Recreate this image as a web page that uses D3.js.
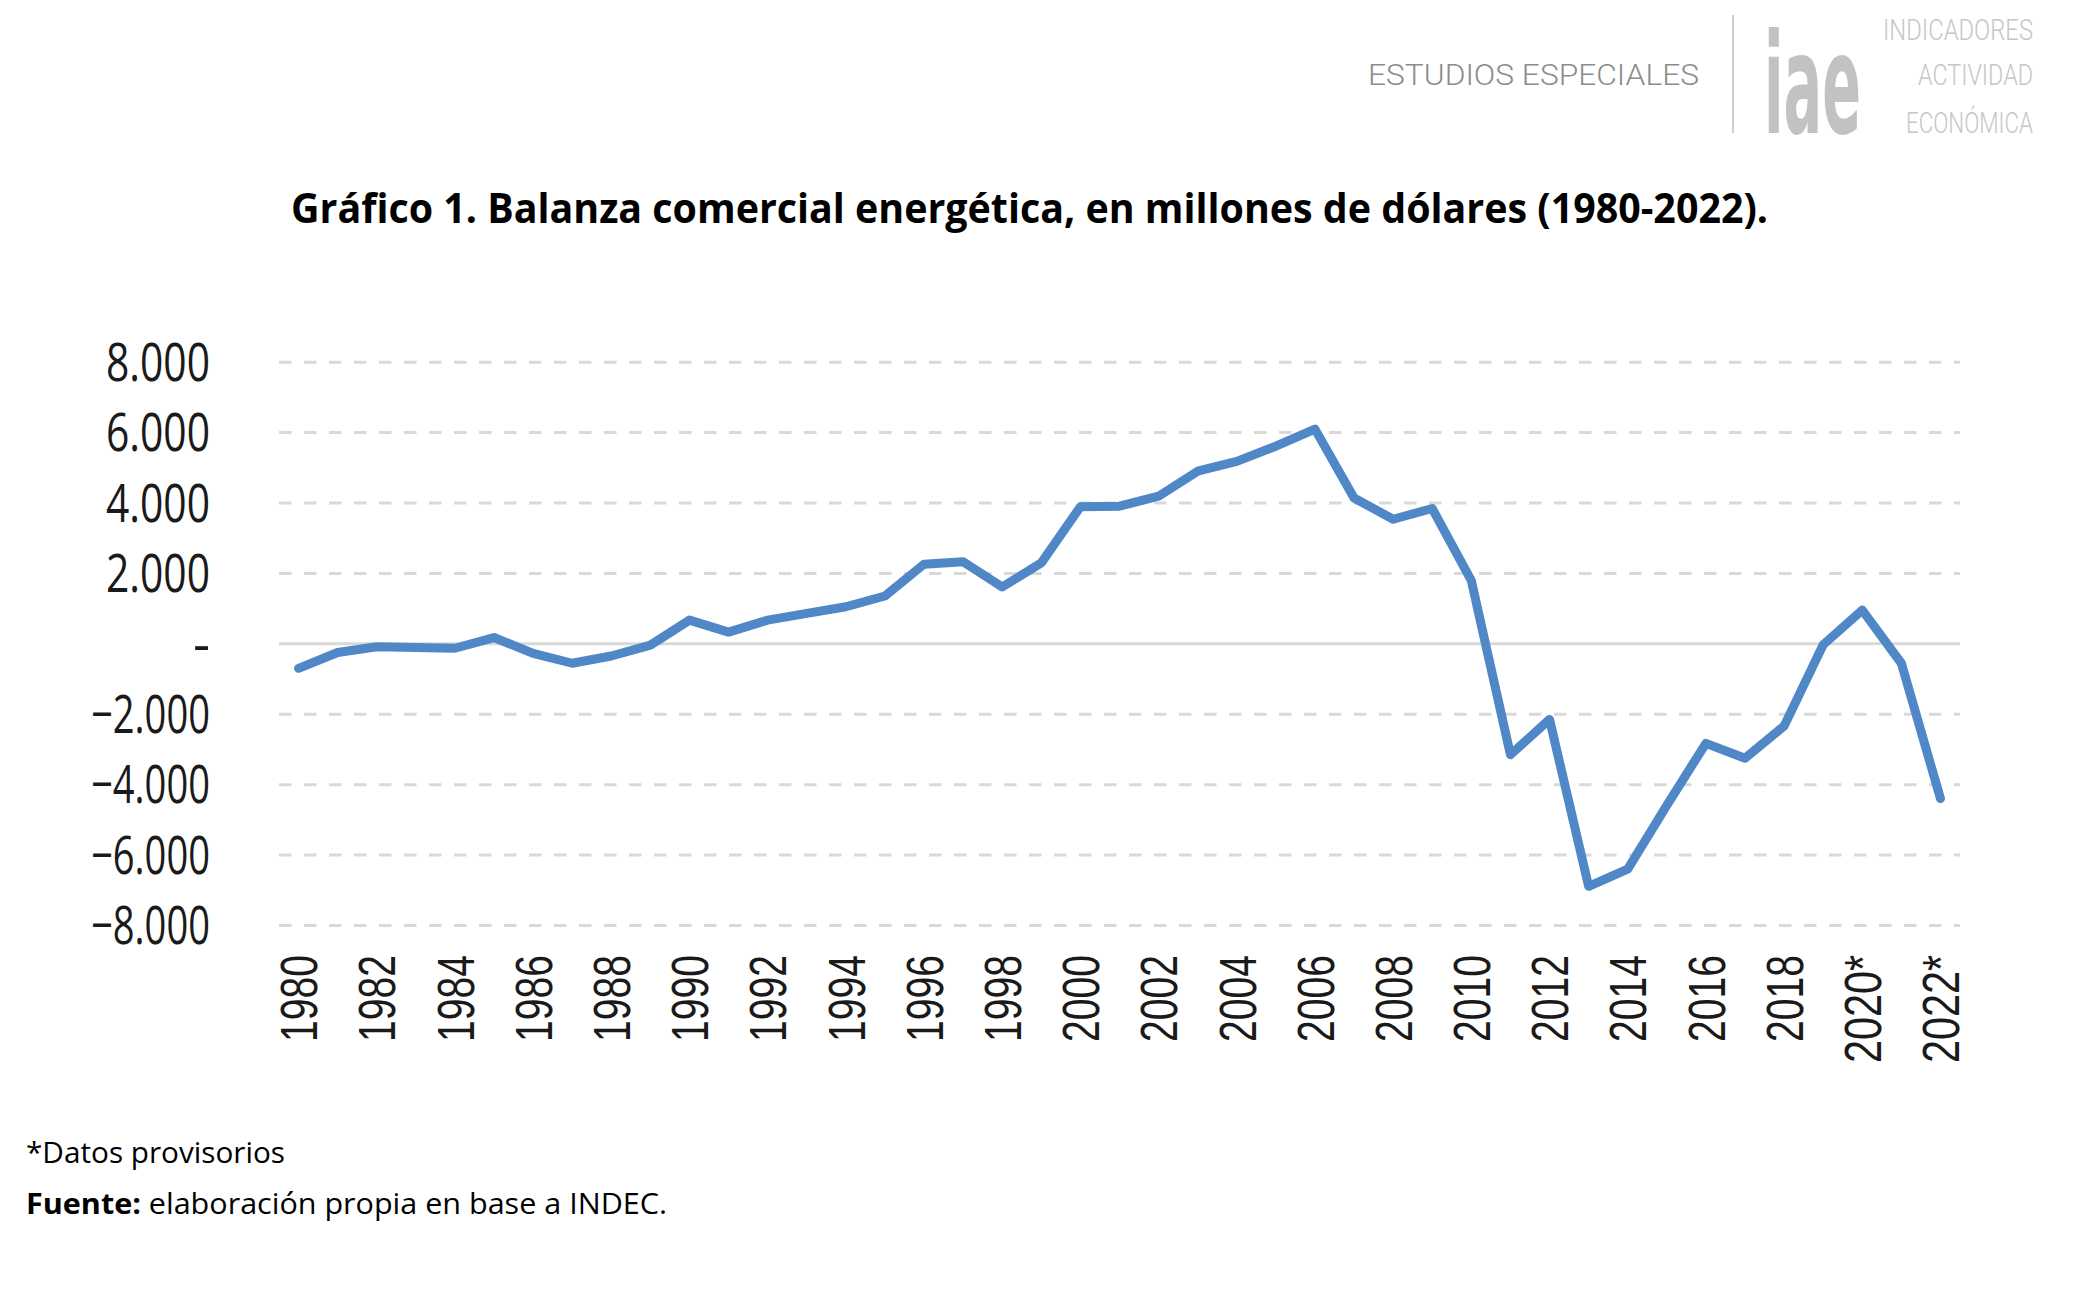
<!DOCTYPE html>
<html>
<head>
<meta charset="utf-8">
<script src="https://cdn.jsdelivr.net/npm/d3@7"></script>
<style>
  html, body { margin: 0; padding: 0; background: #ffffff; }
  svg { display: block; }
</style>
</head>
<body>
<svg id="chart" width="2082" height="1305"></svg>
<script>
// ---- Data ----
const categories = ["1980","1981","1982","1983","1984","1985","1986","1987","1988","1989",
  "1990","1991","1992","1993","1994","1995","1996","1997","1998","1999",
  "2000","2001","2002","2003","2004","2005","2006","2007","2008","2009",
  "2010","2011","2012","2013","2014","2015","2016","2017","2018","2019",
  "2020*","2021*","2022*"];
const balanzaEnergetica = [-710, -260, -96, -115, -140, 165, -285, -565, -360, -50,
  660, 320, 660, 850, 1040, 1345, 2250, 2320, 1600, 2285,
  3880, 3895, 4180, 4890, 5170, 5600, 6085, 4130, 3525, 3830,
  1780, -3165, -2160, -6900, -6410, -4600, -2840, -3265, -2350, -40,
  945, -565, -4410];
const yTicks = [8000, 6000, 4000, 2000, 0, -2000, -4000, -6000, -8000];
const xTickLabels = ["1980","1982","1984","1986","1988","1990","1992","1994","1996","1998",
  "2000","2002","2004","2006","2008","2010","2012","2014","2016","2018","2020*","2022*"];
const titleText = "Gráfico 1. Balanza comercial energética, en millones de dólares (1980-2022).";
const noteText = "*Datos provisorios";
const sourceBold = "Fuente:";
const sourceText = " elaboración propia en base a INDEC.";
const headerLeft = "ESTUDIOS ESPECIALES";
const headerLogo = "iae";
const headerRight = ["INDICADORES", "ACTIVIDAD", "ECONÓMICA"];

// ---- Layout ----
const svg = d3.select("#chart");
const plot = { left: 279, right: 1960, top: 361.7, bottom: 925 };

const x = d3.scaleBand().domain(categories).range([plot.left, plot.right]).paddingInner(0).paddingOuter(0);
const y = d3.scaleLinear().domain([-8000, 8000]).range([plot.bottom, plot.top]);

const loc = d3.formatLocale({ decimal: ",", thousands: ".", grouping: [3], currency: ["$", ""] });
const fmt = loc.format(",.0f");
const yFormat = v => v === 0 ? "-" : fmt(v);

// Header
const hsx = 0.8;
svg.append("text").attr("transform", `translate(1368,85) scale(${hsx},1)`)
  .attr("font-family", "Roboto, sans-serif").attr("font-weight", 300).attr("font-size", 30)
  .attr("fill", "#8c8c8c").attr("textLength", 331 / hsx).attr("lengthAdjust", "spacingAndGlyphs")
  .text(headerLeft);
svg.append("line").attr("x1", 1733).attr("x2", 1733).attr("y1", 15).attr("y2", 133)
  .attr("stroke", "#cfcfcf").attr("stroke-width", 2);
svg.append("text").attr("transform", "translate(1764,133) scale(1,2.45)")
  .attr("font-family", "'DejaVu Sans', sans-serif").attr("font-weight", 700).attr("font-size", 57)
  .attr("fill", "#c2c2c2").attr("textLength", 97).attr("lengthAdjust", "spacingAndGlyphs")
  .text(headerLogo);
const rightLens = [150, 115, 127];
const rightBase = [40, 85, 132.7];
headerRight.forEach((t, i) => {
  svg.append("text").attr("transform", `translate(2033,${rightBase[i]}) scale(${hsx},1)`)
    .attr("text-anchor", "end")
    .attr("font-family", "Roboto, sans-serif").attr("font-weight", 300).attr("font-size", 30)
    .attr("fill", "#c6c6c6").attr("textLength", rightLens[i] / hsx).attr("lengthAdjust", "spacingAndGlyphs")
    .text(t);
});

// Title
svg.append("text").attr("x", 291).attr("y", 223)
  .attr("font-family", "'Open Sans', sans-serif").attr("font-weight", 700).attr("font-size", 42)
  .attr("fill", "#000").attr("textLength", 1477).attr("lengthAdjust", "spacingAndGlyphs")
  .text(titleText);

// Gridlines
const grid = svg.append("g").attr("transform", `translate(${plot.left},0)`)
  .call(d3.axisLeft(y).tickValues(yTicks).tickSize(-(plot.right - plot.left)).tickFormat(""));
grid.select(".domain").remove();
grid.selectAll(".tick line")
  .attr("stroke", "#d9d9d9").attr("stroke-width", 3)
  .attr("stroke-dasharray", d => d === 0 ? null : "12.5,12.5");

// Y axis labels
const yAxis = svg.append("g").attr("transform", `translate(${plot.left},0)`)
  .call(d3.axisLeft(y).tickValues(yTicks).tickSize(0).tickPadding(69).tickFormat(yFormat));
yAxis.select(".domain").remove();
yAxis.selectAll("text")
  .attr("font-family", "'Open Sans', sans-serif").attr("font-size", 53).attr("fill", "#1a1a1a")
  .attr("dy", "0.35em")
  .each(function(d) {
    if (d !== 0) {
      d3.select(this).attr("textLength", d < 0 ? 119 : 104).attr("lengthAdjust", "spacingAndGlyphs");
    }
  });

// X axis labels
const xAxis = svg.append("g").attr("transform", "translate(0,955)")
  .call(d3.axisBottom(x).tickValues(xTickLabels).tickSize(0));
xAxis.select(".domain").remove();
xAxis.selectAll("text")
  .attr("font-family", "'Liberation Sans Narrow', 'Liberation Sans', Arial, sans-serif")
  .attr("font-size", 52).attr("fill", "#1a1a1a")
  .attr("text-anchor", "end").attr("x", 0).attr("y", 0).attr("dy", "0.36em")
  .attr("transform", "rotate(-90)")
  .attr("textLength", d => d.endsWith("*") ? 108 : 87).attr("lengthAdjust", "spacingAndGlyphs");

// Line
const line = d3.line()
  .x((d, i) => x(categories[i]) + x.bandwidth() / 2)
  .y(d => y(d));
svg.append("path").datum(balanzaEnergetica)
  .attr("d", line).attr("fill", "none")
  .attr("stroke", "#5087c7").attr("stroke-width", 9)
  .attr("stroke-linejoin", "round").attr("stroke-linecap", "round");

// Footnotes
svg.append("text").attr("x", 26).attr("y", 1163)
  .attr("font-family", "'Open Sans', sans-serif").attr("font-size", 29).attr("fill", "#000")
  .attr("textLength", 259).attr("lengthAdjust", "spacingAndGlyphs")
  .text(noteText);
const src = svg.append("text").attr("x", 26).attr("y", 1214)
  .attr("font-family", "'Open Sans', sans-serif").attr("font-size", 29).attr("fill", "#000")
  .attr("textLength", 641).attr("lengthAdjust", "spacingAndGlyphs");
src.append("tspan").attr("font-weight", 700).text(sourceBold);
src.append("tspan").text(sourceText);
</script>
</body>
</html>
